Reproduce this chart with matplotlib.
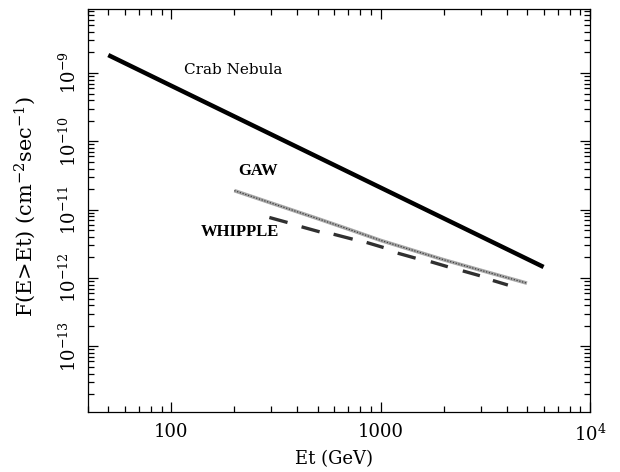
import matplotlib
matplotlib.use("Agg")
import matplotlib.pyplot as plt
from matplotlib.ticker import FixedLocator, LogLocator, NullFormatter

plt.rcParams['mathtext.fontset'] = 'dejavuserif'
plt.rcParams['font.family'] = ['DejaVu Serif']

# ---- data ----
crab_energy = [50, 100, 1000, 6000]
crab_flux = [1.83e-9, 6.5e-10, 2.1e-11, 1.45e-12]

gaw_energy = [200, 300, 500, 700, 1000, 2000, 3000, 5000]
gaw_flux = [1.9e-11, 1.25e-11, 7.4e-12, 5.2e-12, 3.55e-12, 1.85e-12, 1.3e-12, 8.4e-13]

# WHIPPLE: short segments (energy range and flux at each end)
whipple_e_lo = [294, 419, 596, 857, 1206, 1735, 2468, 3436]
whipple_e_hi = [359, 511, 735, 1033, 1469, 2093, 2978, 4052]
whipple_f_lo = [7.68e-12, 5.61e-12, 4.37e-12, 3.31e-12, 2.31e-12, 1.73e-12, 1.27e-12, 9.19e-13]
whipple_f_hi = [6.49e-12, 4.74e-12, 3.70e-12, 2.79e-12, 1.95e-12, 1.46e-12, 1.08e-12, 7.89e-13]

xtick_values = [100, 1000, 10000]
xtick_labels = ['100', '1000', r'$10^{4}$']
ytick_values = [1e-9, 1e-10, 1e-11, 1e-12, 1e-13]
ytick_labels = [r'$10^{-9}$', r'$10^{-10}$', r'$10^{-11}$', r'$10^{-12}$', r'$10^{-13}$']

labels = ['Crab Nebula', 'GAW', 'WHIPPLE']
label_pos = [(115, 1.1e-9), (209, 3.68e-11), (139, 4.7e-12)]

# ---- figure ----
fig = plt.figure(figsize=(6.2, 4.72), dpi=100)
ax = fig.add_axes([88/620, 1-412/472, (590-88)/620, (412-9)/472])
ax.set_xscale('log')
ax.set_yscale('log')
ax.set_xlim(40, 1e4)
ax.set_ylim(1.094e-14, 8.64e-9)

ax.plot(crab_energy, crab_flux, color='black', lw=3.2, solid_capstyle='butt')
ax.plot(gaw_energy, gaw_flux, color='#a8a8a8', lw=2.6, solid_capstyle='butt')
ax.plot(gaw_energy, gaw_flux, color='#404040', lw=0.9, ls=(0, (1.0, 1.3)))
for elo, ehi, flo, fhi in zip(whipple_e_lo, whipple_e_hi, whipple_f_lo, whipple_f_hi):
    ax.plot([elo, ehi], [flo, fhi], color='#303030', lw=2.4, solid_capstyle='butt')

ax.text(label_pos[0][0], label_pos[0][1], labels[0], fontsize=11,
        family='DejaVu Serif', ha='left', va='center')
for i in (1, 2):
    ax.text(label_pos[i][0], label_pos[i][1], labels[i], fontsize=12,
            family='Liberation Serif', weight='bold', ha='left', va='center')

ax.xaxis.set_major_locator(FixedLocator(xtick_values))
ax.set_xticklabels(xtick_labels, fontsize=13)
ax.xaxis.set_minor_locator(LogLocator(base=10, subs=range(2, 10), numticks=20))
ax.xaxis.set_minor_formatter(NullFormatter())

ax.yaxis.set_major_locator(FixedLocator(ytick_values))
ax.set_yticklabels(ytick_labels, fontsize=13, rotation=90, va='center')
ax.yaxis.set_minor_locator(LogLocator(base=10, subs=range(2, 10), numticks=20))
ax.yaxis.set_minor_formatter(NullFormatter())

ax.tick_params(which='both', direction='in', top=True, right=True, width=0.9)
ax.tick_params(which='major', length=7.5)
ax.tick_params(which='minor', length=4)
ax.tick_params(axis='y', which='major', pad=6)
ax.tick_params(axis='x', which='major', pad=8)
for s in ax.spines.values():
    s.set_linewidth(0.9)

ax.set_xlabel('Et (GeV)', fontsize=13)
ax.xaxis.set_label_coords(0.49, -0.095)
ax.set_ylabel(r'F(E>Et) (cm$^{-2}$sec$^{-1}$)', fontsize=15)
ax.yaxis.set_label_coords(-0.10, 0.51)

fig.savefig('out.png', dpi=100)
